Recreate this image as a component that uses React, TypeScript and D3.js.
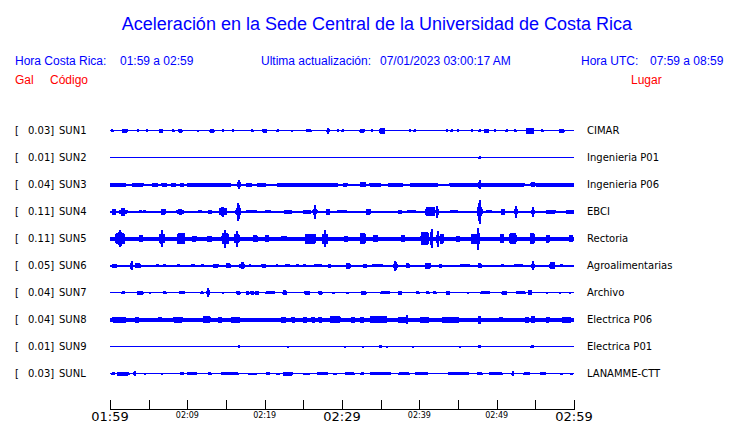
import React from "react";
import * as d3 from "d3";

// ---------- data ----------
const stationCodes = ["SUN1", "SUN2", "SUN3", "SUN4", "SUN5", "SUN6", "SUN7", "SUN8", "SUN9", "SUNL"];
const stationGal = ["0.03", "0.01", "0.04", "0.11", "0.11", "0.05", "0.04", "0.04", "0.01", "0.03"];
const stationPlaces = ["CIMAR", "Ingenieria P01", "Ingenieria P06", "EBCI", "Rectoria", "Agroalimentarias", "Archivo", "Electrica P06", "Electrica P01", "LANAMME-CTT"];
// background noise half-amplitude (gal)
const noiseLevels = [0.004, 0.002, 0.009, 0.009, 0.018, 0.007, 0.005, 0.018, 0.002, 0.005];

// events: [minute since 01:59, half-amplitude (gal), duration (min)]
const sun1Events = [[0.3,0.012,0.1],[1.9,0.02,0.5],[3.6,0.012,0.1],[4.8,0.012,0.1],[6.6,0.018,0.3],[8.2,0.012,0.1],[9.1,0.018,0.3],[11.4,0.01,0.1],[13.2,0.018,0.4],[14.6,0.012,0.1],[15.9,0.012,0.1],[18.4,0.012,0.1],[20.0,0.018,0.4],[21.7,0.012,0.1],[23.5,0.01,0.1],[25.7,0.016,0.5],[28.2,0.028,0.1],[29.5,0.012,0.1],[30.1,0.012,0.1],[32.6,0.018,0.4],[33.9,0.012,0.1],[35.2,0.026,0.5],[38.8,0.012,0.1],[39.4,0.012,0.1],[43.6,0.012,0.1],[44.2,0.016,0.1],[45.0,0.012,0.1],[46.8,0.012,0.1],[47.8,0.012,0.1],[48.7,0.018,0.4],[49.8,0.012,0.1],[51.3,0.012,0.1],[52.4,0.012,0.1],[54.3,0.026,0.8],[55.9,0.012,0.1],[58.4,0.018,0.5]];
const sun2Events = [[47.8,0.012,0.15]];
const sun3Events = [[1.0,0.018,2.0],[3.6,0.018,1.3],[5.8,0.018,0.6],[7.0,0.018,0.5],[8.2,0.018,0.4],[9.3,0.018,0.4],[12.8,0.018,5.5],[16.7,0.04,0.1],[16.7,0.025,0.3],[18.0,0.018,0.6],[19.6,0.018,1.0],[25.5,0.018,7.7],[30.4,0.018,0.4],[32.7,0.022,0.6],[34.3,0.018,1.3],[36.9,0.018,1.7],[40.6,0.018,3.5],[45.9,0.018,3.8],[47.8,0.04,0.1],[47.8,0.025,0.3],[50.5,0.018,6.0],[54.7,0.024,0.4],[57.6,0.018,4.8]];
const sun4Events = [[0.5,0.027,0.3],[1.7,0.036,0.3],[1.7,0.02,0.9],[3.9,0.014,0.2],[4.5,0.014,0.2],[6.9,0.027,0.4],[9.1,0.027,0.3],[9.1,0.018,0.8],[11.6,0.016,0.3],[12.9,0.02,0.3],[14.6,0.048,0.2],[14.6,0.03,0.8],[16.6,0.082,0.1],[16.6,0.03,0.5],[18.3,0.016,1.2],[20.4,0.016,0.6],[23.0,0.02,0.8],[25.5,0.02,0.8],[26.5,0.065,0.1],[26.5,0.025,0.4],[28.2,0.027,0.3],[30.0,0.015,1.0],[33.4,0.027,0.4],[37.5,0.018,0.3],[39.0,0.015,1.0],[41.4,0.04,1.0],[42.3,0.055,0.1],[44.5,0.015,0.8],[47.8,0.11,0.1],[47.8,0.04,0.5],[49.0,0.015,0.6],[50.8,0.027,0.3],[52.5,0.055,0.1],[52.5,0.02,0.4],[54.7,0.045,0.1],[54.7,0.02,0.4],[57.0,0.02,1.0],[59.5,0.018,0.8]];
const sun5Events = [[1.3,0.08,0.2],[1.3,0.05,1.0],[4.0,0.03,0.3],[6.7,0.078,0.1],[6.7,0.04,0.6],[9.2,0.05,0.8],[10.9,0.028,0.4],[12.9,0.028,0.5],[14.9,0.082,0.1],[14.9,0.05,0.7],[16.4,0.075,0.1],[16.4,0.04,0.5],[18.8,0.03,0.4],[20.3,0.03,0.4],[22.5,0.025,0.5],[25.9,0.045,1.2],[27.8,0.08,0.1],[27.8,0.045,0.6],[30.5,0.028,0.4],[32.7,0.05,0.5],[34.3,0.03,0.5],[37.9,0.03,0.4],[40.7,0.06,0.8],[41.6,0.085,0.1],[42.4,0.075,0.1],[42.9,0.045,0.3],[45.0,0.028,0.4],[47.2,0.045,0.8],[47.6,0.1,0.1],[50.7,0.04,0.3],[52.1,0.05,0.7],[54.6,0.05,0.4],[56.6,0.035,0.3],[59.6,0.03,0.4]];
const sun6Events = [[0.6,0.018,0.5],[2.8,0.04,0.1],[3.6,0.022,0.5],[6.1,0.014,0.2],[7.1,0.014,0.2],[8.8,0.014,0.2],[10.7,0.014,0.4],[12.0,0.014,0.2],[13.7,0.018,0.5],[15.3,0.022,0.4],[17.1,0.032,0.2],[17.1,0.02,0.6],[18.1,0.014,0.2],[19.9,0.018,0.4],[21.6,0.014,0.2],[23.0,0.014,0.5],[24.2,0.014,0.2],[25.2,0.014,0.2],[26.9,0.014,0.8],[28.4,0.018,0.2],[30.8,0.026,0.4],[33.0,0.018,0.3],[34.6,0.014,1.2],[36.9,0.048,0.1],[36.9,0.02,0.4],[38.5,0.022,0.3],[41.1,0.028,0.5],[42.7,0.018,0.2],[45.9,0.014,1.0],[47.8,0.022,0.3],[50.8,0.014,0.2],[52.8,0.014,1.0],[54.7,0.04,0.1],[54.7,0.02,0.4],[57.2,0.03,0.5],[58.4,0.014,0.2]];
const sun7Events = [[1.7,0.014,0.2],[3.9,0.018,0.6],[5.2,0.01,0.1],[7.1,0.014,0.2],[9.3,0.014,0.5],[11.9,0.014,0.2],[12.7,0.04,0.1],[12.7,0.015,0.3],[14.6,0.01,0.1],[16.6,0.02,0.3],[17.8,0.018,0.2],[18.4,0.018,0.3],[19.0,0.018,0.3],[20.7,0.014,1.0],[22.6,0.022,0.3],[25.5,0.018,0.5],[27.2,0.018,0.3],[28.9,0.01,0.1],[30.7,0.01,0.1],[32.8,0.018,0.5],[35.6,0.014,1.0],[37.5,0.018,0.3],[39.8,0.014,0.2],[41.1,0.014,0.2],[42.0,0.014,0.2],[43.7,0.018,0.3],[46.3,0.01,0.1],[48.5,0.014,1.0],[51.0,0.018,0.5],[53.1,0.014,1.0],[54.3,0.022,0.3],[56.5,0.01,0.1],[58.2,0.01,0.1],[59.5,0.01,0.1]];
const sun8Events = [[1.2,0.027,1.6],[3.5,0.027,0.3],[6.5,0.024,0.3],[8.8,0.027,1.0],[12.5,0.032,0.8],[14.2,0.027,0.3],[16.2,0.029,1.0],[22.4,0.027,0.5],[23.7,0.027,0.3],[25.2,0.029,0.3],[26.3,0.027,0.3],[27.2,0.027,0.3],[29.1,0.032,1.2],[31.4,0.027,0.3],[32.6,0.027,0.3],[34.7,0.032,2.0],[37.8,0.027,1.0],[38.4,0.04,0.1],[40.7,0.027,1.0],[44.0,0.027,2.0],[47.8,0.035,0.2],[50.6,0.025,0.3],[53.9,0.027,0.3],[54.7,0.03,0.3],[56.6,0.027,0.3],[59.0,0.027,1.0]];
const sun9Events = [[16.7,0.012,0.1],[23.0,0.008,0.1],[30.4,0.008,0.1],[32.7,0.008,0.1],[35.0,0.012,0.2],[35.8,0.008,0.1],[39.2,0.008,0.1],[45.3,0.008,0.1],[47.8,0.012,0.2],[54.6,0.012,0.3]];
const sunLEvents = [[0.4,0.014,0.2],[1.6,0.018,1.2],[2.3,0.014,0.2],[3.2,0.022,0.1],[4.5,0.01,0.1],[6.7,0.01,0.1],[9.3,0.014,0.3],[10.6,0.014,1.0],[12.9,0.014,0.2],[15.5,0.014,2.0],[18.4,0.01,1.0],[20.4,0.014,0.3],[21.7,0.01,0.3],[23.0,0.018,1.0],[25.4,0.01,0.8],[27.5,0.014,1.2],[29.1,0.01,0.3],[31.0,0.014,1.0],[32.6,0.014,0.2],[35.0,0.014,2.5],[38.0,0.014,1.2],[40.3,0.014,1.5],[45.1,0.014,2.5],[47.8,0.014,0.5],[49.9,0.014,1.5],[52.1,0.022,0.1],[53.9,0.014,0.6],[56.0,0.014,0.6],[58.4,0.01,0.1],[59.7,0.01,0.1]];
const traceEvents = [sun1Events, sun2Events, sun3Events, sun4Events, sun5Events, sun6Events, sun7Events, sun8Events, sun9Events, sunLEvents];

const tickMinutes = [0, 5, 10, 15, 20, 25, 30, 35, 40, 45, 50, 55, 60];
const labelMinutes = [0, 10, 20, 30, 40, 50, 60];
const labelTexts = ["01:59", "02:09", "02:19", "02:29", "02:39", "02:49", "02:59"];
const majorLabels = ["01:59", "02:29", "02:59"];

const titleText = "Aceleración en la Sede Central de la Universidad de Costa Rica";

// ---------- layout ----------
const W = 740, H = 423;
const BLUE = "#0000ff";
const RED = "#ff0000";
const SANS = "'Liberation Sans', Arial, Helvetica, sans-serif";
const DEJAVU = "'DejaVu Sans', Verdana, sans-serif";

const x = d3.scaleLinear().domain([0, 60]).range([110, 574]);
const y = d3.scalePoint<string>().domain(stationCodes).range([130, 373]);
const amp = d3.scaleLinear().domain([0, 0.11]).range([0, 12]);

const TAPER = 0.13;

function tracePath(events: number[][], noise: number, cy: number): string {
  const x0 = Math.round(x(0));
  const x1 = Math.round(x(60));
  const hw = x.invert(x0 + 0.5) - x.invert(x0);
  const base = Math.round(cy);
  let p = "";
  for (let px = x0; px < x1; px++) {
    const tc = x.invert(px + 0.5);
    let env = noise;
    for (const [t, a, w] of events) {
      const d = Math.abs(tc - t) - w / 2 - hw;
      let v = 0;
      if (d <= 0) v = a;
      else if (d < TAPER) v = a * (1 - d / TAPER);
      if (v > env) env = v;
    }
    const T = Math.max(1, Math.round(2 * amp(env)));
    const top = base - Math.floor((T - 1) / 2);
    p += `M${px},${top}h1v${T}h-1Z`;
  }
  return p;
}

export default function App() {
  return (
    <svg
      width={W}
      height={H}
      viewBox={`0 0 ${W} ${H}`}
      style={{ position: "absolute", left: 0, top: 0, background: "#fff", display: "block" }}
    >
      <rect width={W} height={H} fill="#fff" />
      <text x={377} y={30} textAnchor="middle" fontFamily={SANS} fontSize={18} fill={BLUE}>
        {titleText}
      </text>

      <g fontFamily={SANS} fontSize={12} fill={BLUE}>
        <text x={15} y={65}>Hora Costa Rica:</text>
        <text x={120} y={65}>01:59 a 02:59</text>
        <text x={261} y={65}>Ultima actualización:</text>
        <text x={380} y={65}>07/01/2023 03:00:17 AM</text>
        <text x={581} y={65}>Hora UTC:</text>
        <text x={650} y={65}>07:59 a 08:59</text>
      </g>
      <g fontFamily={SANS} fontSize={12} fill={RED}>
        <text x={15} y={84}>Gal</text>
        <text x={50} y={84}>Código</text>
        <text x={631} y={84}>Lugar</text>
      </g>

      <g fontFamily={DEJAVU} fontSize={10} fill="#000">
        {stationCodes.map((c, i) => {
          const cy = y(c)!;
          return (
            <g key={c}>
              <text x={15} y={cy + 3.5}>[</text>
              <text x={28} y={cy + 3.5}>{stationGal[i]}]</text>
              <text x={59} y={cy + 3.5}>{c}</text>
              <text x={587} y={cy + 3.5}>{stationPlaces[i]}</text>
            </g>
          );
        })}
      </g>

      <g fill={BLUE} stroke="none" shapeRendering="crispEdges">
        {stationCodes.map((c, i) => (
          <path key={c} d={tracePath(traceEvents[i], noiseLevels[i], y(c)!)} />
        ))}
      </g>

      <g stroke="#000" strokeWidth={1} shapeRendering="crispEdges">
        <line x1={x(0)} x2={x(60)} y1={409.5} y2={409.5} />
        {tickMinutes.map((m) => (
          <line key={m} x1={Math.round(x(m)) + 0.5} x2={Math.round(x(m)) + 0.5} y1={400} y2={409.5} />
        ))}
      </g>
      <g fontFamily={DEJAVU} fill="#000" textAnchor="middle">
        {labelMinutes.map((m, i) => {
          const big = majorLabels.includes(labelTexts[i]);
          return (
            <text key={m} x={x(m)} y={big ? 421 : 418} fontSize={big ? 13 : 8}>
              {labelTexts[i]}
            </text>
          );
        })}
      </g>
    </svg>
  );
}
